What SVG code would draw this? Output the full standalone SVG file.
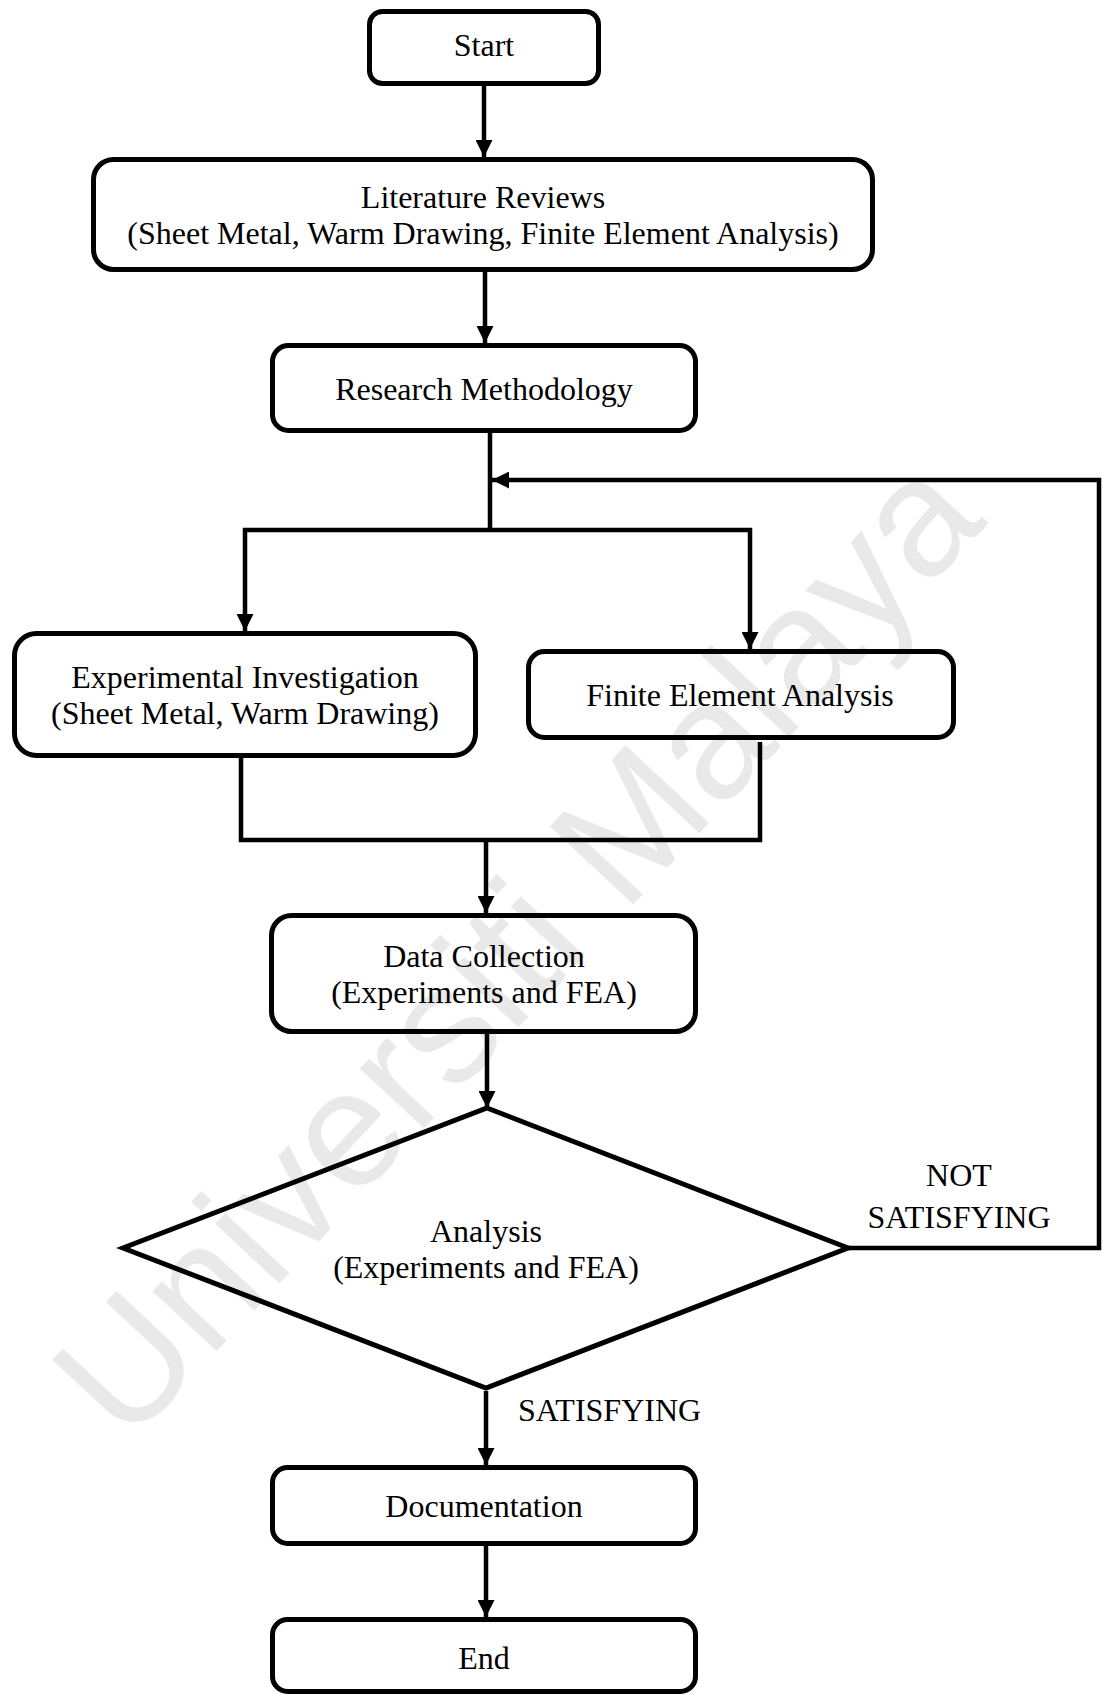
<svg xmlns="http://www.w3.org/2000/svg" width="1102" height="1694" viewBox="0 0 1102 1694">
<defs>
<style>
.box{fill:none;stroke:#000;stroke-width:5}
.ln{fill:none;stroke:#000;stroke-width:4.5;stroke-linejoin:miter}
.t{font-family:"Liberation Serif","Times New Roman",serif;font-size:32px;fill:#000;text-anchor:middle}
.wm{font-family:"Liberation Sans",Arial,sans-serif;font-size:166px;fill:#e9e9e9;text-anchor:middle}
</style>
<marker id="ah" markerUnits="userSpaceOnUse" markerWidth="17" markerHeight="17" refX="17" refY="8.5" orient="auto" viewBox="0 0 17 17">
<path d="M0,0 L17,8.5 L0,17 z" fill="#000"/>
</marker>
</defs>
<rect width="1102" height="1694" fill="#fff"/>
<g id="watermark" transform="translate(514,944) rotate(-47)">
<text class="wm" x="0" y="60">Universiti Malaya</text>
</g>
<g id="connectors">
<line class="ln" x1="484" y1="86" x2="484" y2="157" marker-end="url(#ah)"/>
<line class="ln" x1="485" y1="272" x2="485" y2="343" marker-end="url(#ah)"/>
<polyline class="ln" points="490,433 490,530"/>
<polyline class="ln" points="490,530 245,530 245,631" marker-end="url(#ah)"/>
<polyline class="ln" points="490,530 750,530 750,649" marker-end="url(#ah)"/>
<polyline class="ln" points="241,758 241,840 760,840 760,742"/>
<line class="ln" x1="486" y1="840" x2="486" y2="913" marker-end="url(#ah)"/>
<line class="ln" x1="487" y1="1034" x2="487" y2="1108" marker-end="url(#ah)"/>
<line class="ln" x1="486" y1="1391" x2="486" y2="1465" marker-end="url(#ah)"/>
<line class="ln" x1="486" y1="1546" x2="486" y2="1617" marker-end="url(#ah)"/>
<polyline class="ln" points="848,1248 1099,1248 1099,480 492,480" marker-end="url(#ah)"/>
<text class="t" x="959" y="1186">NOT</text>
<text class="t" x="959" y="1228">SATISFYING</text>
<text class="t" x="518" y="1421" style="text-anchor:start">SATISFYING</text>
</g>
<g id="start">
<rect class="box" x="369.5" y="11.5" width="229" height="72" rx="13"/>
<text class="t" x="484" y="56">Start</text>
</g>
<g id="literature">
<rect class="box" x="93.5" y="159.5" width="779" height="110" rx="20"/>
<text class="t" x="483" y="208">Literature Reviews</text>
<text class="t" x="483" y="244">(Sheet Metal, Warm Drawing, Finite Element Analysis)</text>
</g>
<g id="research">
<rect class="box" x="272.5" y="345.5" width="423" height="85" rx="16"/>
<text class="t" x="484" y="400">Research Methodology</text>
</g>
<g id="experimental">
<rect class="box" x="14.5" y="633.5" width="461" height="122" rx="22"/>
<text class="t" x="245" y="688">Experimental Investigation</text>
<text class="t" x="245" y="724">(Sheet Metal, Warm Drawing)</text>
</g>
<g id="fea">
<rect class="box" x="528.5" y="651.5" width="425" height="86" rx="16"/>
<text class="t" x="740" y="706">Finite Element Analysis</text>
</g>
<g id="data">
<rect class="box" x="271.5" y="915.5" width="424" height="116" rx="20"/>
<text class="t" x="484" y="967">Data Collection</text>
<text class="t" x="484" y="1003">(Experiments and FEA)</text>
</g>
<g id="analysis">
<polygon class="box" points="487,1108 848,1248 486,1388 123,1248" style="stroke-linejoin:miter"/>
<text class="t" x="486" y="1242">Analysis</text>
<text class="t" x="486" y="1278">(Experiments and FEA)</text>
</g>
<g id="documentation">
<rect class="box" x="272.5" y="1467.5" width="423" height="76" rx="15"/>
<text class="t" x="484" y="1517">Documentation</text>
</g>
<g id="end">
<rect class="box" x="272.5" y="1619.5" width="423" height="72" rx="15"/>
<text class="t" x="484" y="1669">End</text>
</g>
</svg>
